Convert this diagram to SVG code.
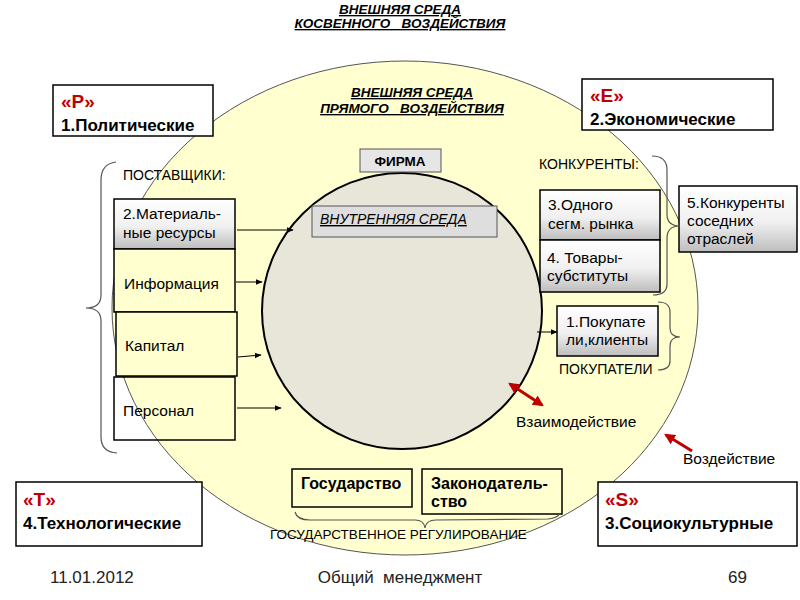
<svg xmlns="http://www.w3.org/2000/svg" width="800" height="600" viewBox="0 0 800 600">
<defs>
<linearGradient id="gr" x1="0" y1="0" x2="0" y2="1">
<stop offset="0" stop-color="#ffffff"/>
<stop offset="0.55" stop-color="#f0f0f0"/>
<stop offset="1" stop-color="#bdbdbd"/>
</linearGradient>
<marker id="ah" viewBox="0 0 10 10" refX="9" refY="5" markerWidth="7" markerHeight="7" orient="auto" markerUnits="userSpaceOnUse">
<path d="M0,1 L10,5 L0,9 z" fill="#000"/>
</marker>
<marker id="rh" viewBox="0 0 10 10" refX="8" refY="5" markerWidth="11" markerHeight="11" orient="auto-start-reverse" markerUnits="userSpaceOnUse">
<path d="M0,0 L10,5 L0,10 z" fill="#c00000"/>
</marker>
</defs>
<style>
text{font-family:"Liberation Sans",Arial,sans-serif;fill:#000}
.t{font-size:13.5px;font-weight:bold;font-style:italic;text-decoration:underline}
.n{font-size:15.5px}
.c{font-size:14px}
.b{font-size:16px;font-weight:bold}
.pl{font-size:19px;font-weight:bold;fill:#c00000}
.pn{font-size:17px;font-weight:bold}
.f{font-size:17px;fill:#222}
.bx{stroke:#000;stroke-width:1.5}
.br{fill:none;stroke:#555;stroke-width:1.2}
.ar{stroke:#000;stroke-width:1;fill:none;marker-end:url(#ah)}
.ra{stroke:#c00000;stroke-width:3;fill:none}
</style>
<rect width="800" height="600" fill="#fff"/>
<g id="outer">
<ellipse cx="405" cy="308" rx="293" ry="247" fill="#ffffcf" stroke="#555" stroke-width="1"/>
</g>
<g id="inner">
<ellipse cx="402" cy="311" rx="140" ry="138" fill="#e8e6d8" stroke="#000" stroke-width="2"/>
</g>
<g id="titles">
<text class="t" x="400" y="14" text-anchor="middle">ВНЕШНЯЯ СРЕДА</text>
<text class="t" x="400" y="28" text-anchor="middle" xml:space="preserve">КОСВЕННОГО   ВОЗДЕЙСТВИЯ</text>
<text class="t" x="412" y="97" text-anchor="middle">ВНЕШНЯЯ СРЕДА</text>
<text class="t" x="412" y="113" text-anchor="middle" xml:space="preserve">ПРЯМОГО   ВОЗДЕЙСТВИЯ</text>
</g>
<g id="nodeP">
<rect class="bx" x="53" y="85" width="160" height="51" fill="#fff"/>
<text class="pl" x="61" y="108">«P»</text>
<text class="pn" x="61" y="131">1.Политические</text>
</g>
<g id="nodeE">
<rect class="bx" x="582" y="79" width="191" height="51" fill="#fff"/>
<text class="pl" x="590" y="102">«E»</text>
<text class="pn" x="590" y="125">2.Экономические</text>
</g>
<g id="nodeT">
<rect class="bx" x="16" y="482" width="186" height="64" fill="#fff"/>
<text class="pl" x="23" y="506">«T»</text>
<text class="pn" x="23" y="529">4.Технологические</text>
</g>
<g id="nodeS">
<rect class="bx" x="598" y="482" width="199" height="64" fill="#fff"/>
<text class="pl" x="605" y="506">«S»</text>
<text class="pn" x="605" y="529">3.Социокультурные</text>
</g>
<g id="suppliersLabel">
<text class="c" x="123" y="180">ПОСТАВЩИКИ:</text>
</g>
<g id="material">
<rect class="bx" x="114" y="199" width="121" height="50" fill="url(#gr)"/>
<text class="n" x="123" y="219">2.Материаль-</text>
<text class="n" x="123" y="238">ные ресурсы</text>
</g>
<g id="info">
<rect class="bx" x="114" y="249" width="121" height="63" fill="#ffffcf"/>
<text class="n" x="124" y="289">Информация</text>
</g>
<g id="capital">
<rect class="bx" x="116" y="312" width="121" height="64" fill="#ffffcf"/>
<text class="n" x="125" y="351">Капитал</text>
</g>
<g id="personnel">
<rect class="bx" x="114" y="377" width="121" height="63" fill="none"/>
<text class="n" x="123" y="416">Персонал</text>
</g>
<g id="firm">
<rect x="360" y="149" width="81" height="23" fill="#e6e6e6" stroke="#555" stroke-width="1"/>
<text x="400" y="166" text-anchor="middle" style="font-size:13.5px;font-weight:bold">ФИРМА</text>
</g>
<g id="internal">
<rect x="312" y="206" width="185" height="31" fill="#dedede" stroke="#555" stroke-width="1"/>
<text x="320" y="224" style="font-size:14px;font-style:italic;text-decoration:underline">ВНУТРЕННЯЯ СРЕДА</text>
</g>
<g id="competitorsLabel">
<text class="c" x="539" y="169">КОНКУРЕНТЫ:</text>
</g>
<g id="comp3">
<rect class="bx" x="540" y="190" width="120" height="50" fill="url(#gr)"/>
<text class="n" x="548" y="210">3.Одного</text>
<text class="n" x="548" y="229">сегм. рынка</text>
</g>
<g id="comp4">
<rect x="540" y="240" width="120" height="52" fill="url(#gr)" stroke="#000" stroke-width="1.5"/>
<text class="n" x="547" y="263">4. Товары-</text>
<text class="n" x="547" y="281">субституты</text>
</g>
<g id="comp5">
<rect class="bx" x="679" y="186" width="118" height="66" fill="url(#gr)"/>
<text class="n" x="687" y="208">5.Конкуренты</text>
<text class="n" x="687" y="226">соседних</text>
<text class="n" x="687" y="244">отраслей</text>
</g>
<g id="buyers">
<rect class="bx" x="557" y="306" width="101" height="50" fill="url(#gr)"/>
<text class="n" x="566" y="327">1.Покупате</text>
<text class="n" x="566" y="345">ли,клиенты</text>
</g>
<g id="buyersLabel">
<text class="c" x="559" y="374">ПОКУПАТЕЛИ</text>
</g>
<g id="state">
<rect class="bx" x="292" y="469" width="120" height="38" fill="#ffffcf"/>
<text class="b" x="301" y="489">Государство</text>
</g>
<g id="law">
<rect class="bx" x="422" y="469" width="140" height="45" fill="#ffffcf"/>
<text class="b" x="431" y="489">Законодатель-</text>
<text class="b" x="431" y="507">ство</text>
</g>
<g id="regLabel">
<text x="270" y="539" style="font-size:13.5px">ГОСУДАРСТВЕННОЕ РЕГУЛИРОВАНИЕ</text>
</g>
<g id="labels">
<text class="n" x="516" y="427">Взаимодействие</text>
<text class="n" x="683" y="464">Воздействие</text>
</g>
<g id="connectors">
<line class="ar" x1="237" y1="230" x2="293" y2="230"/>
<line class="ar" x1="236" y1="282" x2="262" y2="282"/>
<line class="ar" x1="238" y1="357" x2="261" y2="355"/>
<line class="ar" x1="237" y1="408" x2="281" y2="408"/>
<line class="ar" x1="537" y1="332" x2="557" y2="332"/>
<path class="br" d="M116,162 Q101,164 101,180 L101,295 Q101,308 86,308 Q101,308 101,321 L101,437 Q101,452 117,453"/>
<path class="br" d="M652,156 Q667,156 667,170 L667,214 Q667,226 680,226 Q667,226 667,238 L667,284 Q667,295 653,295"/>
<path class="br" d="M658,302 Q670,302 670,312 L670,328 Q670,337 680,337 Q670,337 670,346 L670,361 Q670,370 658,370"/>
<path class="br" d="M295,512 Q297,520 310,520 L415,520 Q424,520 425,528 Q426,520 436,520 L548,519 Q558,518 560,513"/>
<line class="ra" x1="510" y1="384" x2="542" y2="405" marker-start="url(#rh)" marker-end="url(#rh)"/>
<line class="ra" x1="692" y1="451" x2="666" y2="435" marker-end="url(#rh)"/>
</g>
<g id="footer">
<text class="f" x="50" y="583">11.01.2012</text>
<text class="f" x="400" y="583" text-anchor="middle" xml:space="preserve">Общий  менеджмент</text>
<text class="f" x="728" y="583">69</text>
</g>
</svg>
